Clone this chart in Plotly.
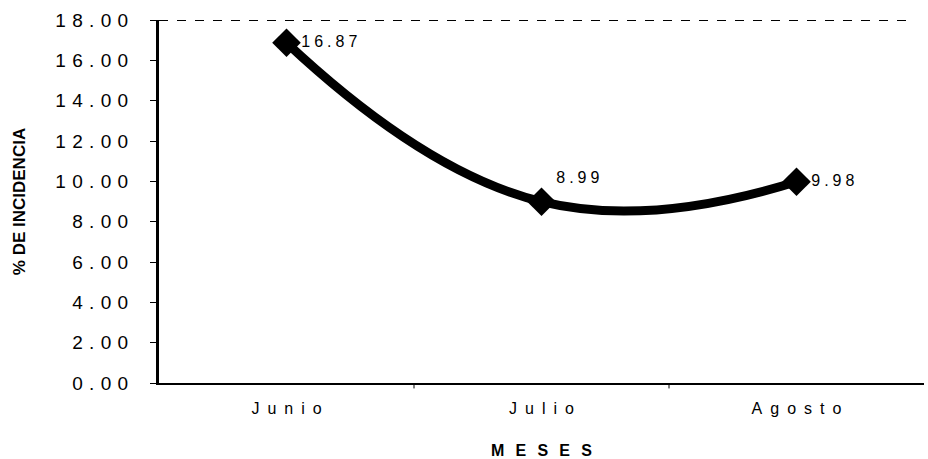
import plotly.graph_objects as go

# Monthly incidence (%)
meses = ["Junio", "Julio", "Agosto"]
incidencia = [16.87, 8.99, 9.98]
y_ticks = [0, 2, 4, 6, 8, 10, 12, 14, 16, 18]

FONT = "Liberation Sans, Arial, sans-serif"


def spaced(text, gap="\u2002"):
    """Spread the characters of a label the way the printed chart does."""
    return gap.join(list(text))


x_pos = list(range(len(meses)))

fig = go.Figure()
fig.add_trace(go.Scatter(
    x=x_pos,
    y=incidencia,
    mode="lines+markers+text",
    line=dict(color="black", width=9, shape="spline", smoothing=1.3),
    marker=dict(symbol="diamond", size=22, color="black"),
    text=[spaced(f"{v:.2f}", "\u2005") for v in incidencia],
    textposition=["middle right", "top right", "middle right"],
    textfont=dict(family=FONT, size=16, color="black"),
    cliponaxis=False,
    showlegend=False,
))

# dashed frame line along the top of the plot area
fig.add_shape(type="line", xref="paper", yref="y", x0=0, x1=0.98, y0=18, y1=18,
              line=dict(color="black", width=2, dash="dash"))

fig.update_layout(
    width=928, height=459,
    margin=dict(l=159, r=4, t=20, b=76),
    plot_bgcolor="white", paper_bgcolor="white",
    font=dict(family=FONT, color="black"),
)

fig.update_xaxes(
    range=[-0.5, 2.5],
    automargin=False,
    tickmode="array", tickvals=x_pos,
    ticktext=[spaced(m) for m in meses],
    tickfont=dict(size=16, family=FONT),
    showline=True, linecolor="black", linewidth=2,
    ticks="outside", ticklen=10, tickcolor="rgba(0,0,0,0)",
    showgrid=False, zeroline=False,
    title=dict(text="<b>" + spaced("MESES", "\u2002\u2009") + "</b>",
               font=dict(size=16, family=FONT), standoff=30),
)
# boundary tick marks between months
for xb in [0.5, 1.5]:
    fig.add_shape(type="line", xref="x", yref="paper", x0=xb, x1=xb, y0=0, y1=-0.015,
                  line=dict(color="black", width=1))

fig.update_yaxes(
    range=[0, 18],
    automargin=False,
    tickmode="array", tickvals=y_ticks,
    ticktext=[spaced(f"{v:.2f}", "\u2004") for v in y_ticks],
    tickfont=dict(size=19, family=FONT),
    ticks="outside", ticklen=6, tickcolor="black", tickwidth=1,
    ticklabelstandoff=18,
    showline=True, linecolor="black", linewidth=3,
    showgrid=False, zeroline=False,
    title=dict(text="<b>% DE INCIDENCIA</b>", font=dict(size=17, family=FONT), standoff=26),
)

fig.write_html("out.html")
